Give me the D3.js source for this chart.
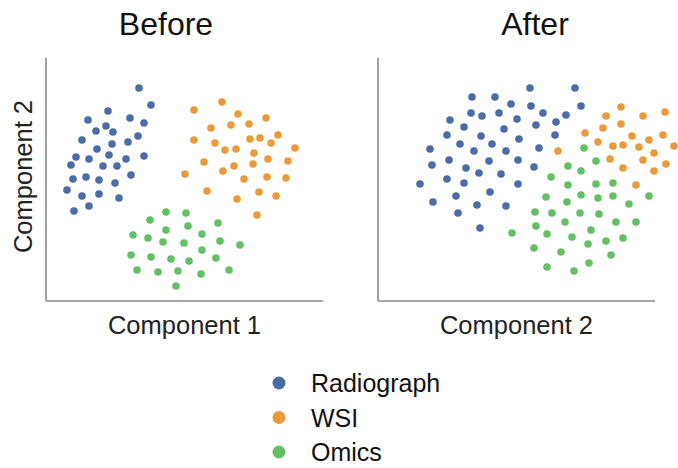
<!DOCTYPE html>
<html>
<head>
<meta charset="utf-8">
<script src="https://cdn.jsdelivr.net/npm/d3@7/dist/d3.min.js"></script>
<style>
  html, body { margin: 0; padding: 0; background: #fff; }
  svg { display: block; font-family: "Liberation Sans", Arial, sans-serif; }
</style>
</head>
<body>
<svg id="chart" width="678" height="468"></svg>
<script>
// Embedding coordinates (component 1, component 2) for each modality
const modalities = ["Radiograph", "WSI", "Omics"];
const colors = ["#4a6da7", "#eb9a3a", "#63c063"];

const beforeRadiograph = [
  [93,213],[105,196],[62,190],[42,181],[84,183],[98,178],[60,175],[50,170],[67,169],
  [36,161],[92,165],[82,159],[66,157],[51,152],[63,146],[98,145],[30,144],[43,142],
  [80,142],[25,136],[57,135],[71,135],[85,126],[27,122],[40,124],[53,121],[69,118],
  [21,111],[36,105],[53,107],[73,103],[28,90],[43,95]
];
const beforeWSI = [
  [176,199],[148,191],[192,187],[220,183],[165,173],[185,176],[203,177],[148,161],
  [204,162],[214,163],[232,166],[169,158],[225,158],[179,151],[190,152],[249,153],
  [208,148],[158,139],[222,142],[242,140],[207,137],[188,135],[177,130],[139,127],
  [198,122],[221,124],[240,123],[161,110],[213,109],[191,102],[230,105],[211,86]
];
const beforeOmics = [
  [120,89],[140,88],[104,81],[172,78],[142,75],[120,71],[87,66],[102,63],[156,67],
  [117,59],[138,58],[174,60],[194,56],[156,51],[85,46],[105,44],[125,42],[143,40],
  [170,43],[91,31],[112,29],[132,30],[155,27],[183,31],[130,15]
];

const afterRadiograph = [
  [152,213],[197,213],[94,204],[117,204],[133,197],[153,195],[203,195],[93,188],
  [104,185],[121,188],[165,188],[188,186],[139,182],[72,181],[178,179],[158,176],
  [86,174],[126,172],[177,166],[69,166],[103,165],[141,162],[82,157],[114,157],
  [161,153],[52,152],[96,150],[128,150],[54,136],[71,141],[88,133],[111,140],
  [140,141],[156,134],[42,117],[69,122],[86,118],[101,128],[123,127],[140,117],
  [112,109],[78,105],[55,99],[99,96],[128,95],[80,88],[102,73]
];
const afterWSI = [
  [243,194],[228,185],[265,185],[287,189],[243,177],[225,173],[207,168],[254,165],
  [285,166],[271,161],[220,159],[235,155],[245,156],[261,154],[276,148],[296,155],
  [180,150],[232,142],[265,141],[288,137],[245,133],[276,130],[258,116]
];
const afterOmics = [
  [206,153],[218,140],[190,135],[203,130],[173,124],[190,116],[218,117],[235,118],
  [168,104],[189,99],[203,106],[220,103],[235,105],[251,97],[271,105],[157,89],
  [174,88],[202,88],[221,87],[158,75],[187,79],[238,79],[258,79],[134,68],[169,67],
  [213,71],[194,64],[228,60],[245,63],[210,57],[156,53],[183,49],[233,46],[211,38],
  [169,34],[196,30]
];

const panelTitles = ["Before", "After"];
const xLabels = ["Component 1", "Component 2"];
const yLabel = "Component 2";

const svg = d3.select("#chart");

const panels = [
  { title: panelTitles[0], xLabel: xLabels[0], left: 46, titleX: 166,
    series: [beforeRadiograph, beforeWSI, beforeOmics] },
  { title: panelTitles[1], xLabel: xLabels[1], left: 378, titleX: 535,
    series: [afterRadiograph, afterWSI, afterOmics] }
];

const plotW = 277, plotTop = 58, plotBottom = 301;
const y = d3.scaleLinear().domain([0, 243]).range([plotBottom, plotTop]);

panels.forEach(p => {
  const x = d3.scaleLinear().domain([0, plotW]).range([p.left, p.left + plotW]);
  const g = svg.append("g");

  // spines
  g.append("line")
    .attr("x1", x(0)).attr("x2", x(0)).attr("y1", y(243)).attr("y2", y(0))
    .attr("stroke", "#8a8a8a").attr("stroke-width", 1.6);
  g.append("line")
    .attr("x1", x(0)).attr("x2", x(plotW)).attr("y1", y(0)).attr("y2", y(0))
    .attr("stroke", "#8a8a8a").attr("stroke-width", 1.6);

  // points
  p.series.forEach((pts, i) => {
    g.append("g").selectAll("circle").data(pts).join("circle")
      .attr("cx", d => x(d[0]))
      .attr("cy", d => y(d[1]))
      .attr("r", 3.8)
      .attr("fill", colors[i]);
  });

  g.append("text")
    .attr("x", p.titleX).attr("y", 35)
    .attr("text-anchor", "middle")
    .attr("font-size", 32).attr("fill", "#111")
    .text(p.title);

  g.append("text")
    .attr("x", x(plotW / 2)).attr("y", 334)
    .attr("text-anchor", "middle")
    .attr("font-size", 25.5).attr("fill", "#222")
    .text(p.xLabel);
});

svg.append("text")
  .attr("transform", `translate(32,${(plotTop + plotBottom) / 2 - 3}) rotate(-90)`)
  .attr("text-anchor", "middle")
  .attr("font-size", 25.5).attr("fill", "#222")
  .text(yLabel);

// legend
const legend = svg.append("g");
const legendY = d3.scalePoint().domain(modalities).range([383, 452]);
modalities.forEach((m, i) => {
  legend.append("circle")
    .attr("cx", 279).attr("cy", legendY(m)).attr("r", 6.5)
    .attr("fill", colors[i]);
  legend.append("text")
    .attr("x", 311).attr("y", legendY(m) + 9)
    .attr("font-size", 25).attr("fill", "#111")
    .text(m);
});
</script>
</body>
</html>
